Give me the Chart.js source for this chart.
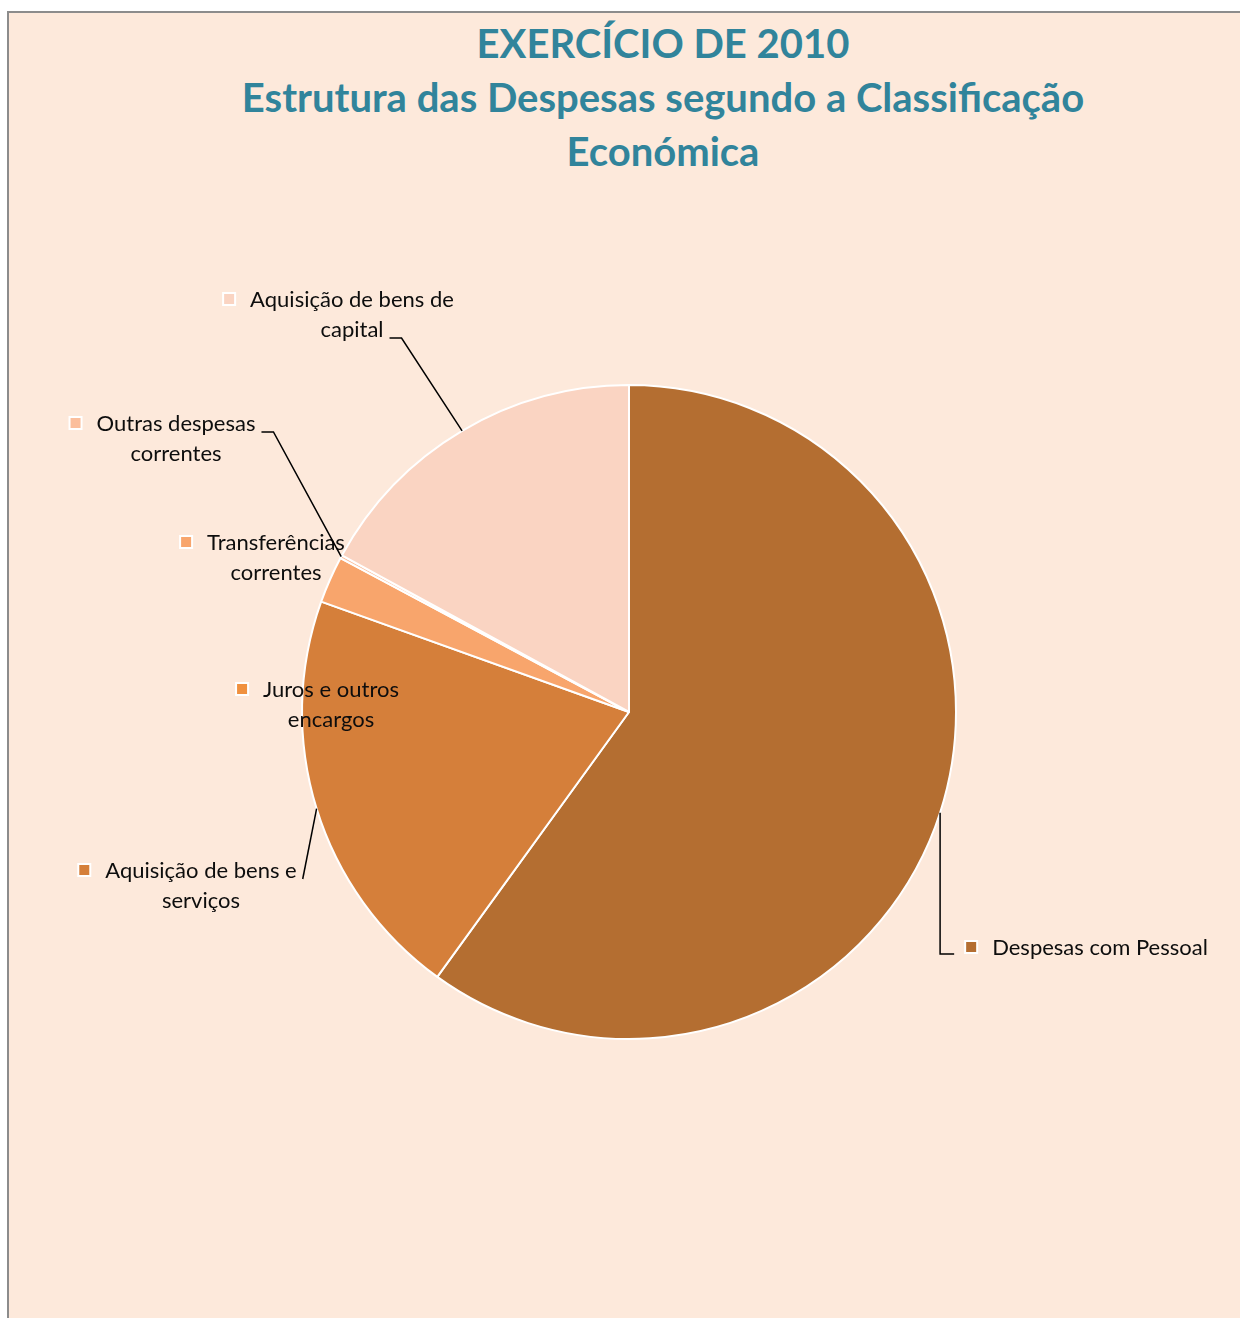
<!DOCTYPE html>
<html>
<head>
<meta charset="utf-8">
<script src="https://cdn.jsdelivr.net/npm/chart.js@4.4.1/dist/chart.umd.min.js"></script>
<style>
  html, body { margin: 0; padding: 0; background: #fff; }
  #frame {
    position: absolute; left: 7px; top: 11px; width: 1300px; height: 1400px;
    background: #FDE9DB; border-top: 2px solid #8c8c8c; border-left: 2px solid #8c8c8c;
  }
  #title {
    position: absolute; left: 8px; top: 16px; width: 1310px; text-align: center;
    font: bold 40px Lato, sans-serif; line-height: 54px; color: #31849B;
  }
  #myChart { position: absolute; left: 0; top: 0; }
</style>
</head>
<body>
<div id="frame"></div>
<div id="title">EXERCÍCIO DE 2010<br>Estrutura das Despesas segundo a Classificação<br>Económica</div>
<canvas id="myChart" width="1240" height="1318"></canvas>
<script>
// categories and their share of total expenditure (%)
const categories = [
  "Despesas com Pessoal",
  "Aquisição de bens e serviços",
  "Juros e outros encargos",
  "Transferências correntes",
  "Outras despesas correntes",
  "Aquisição de bens de capital"
];
const shares = [59.97, 20.51, 0, 2.32, 0.15, 17.05];
const sliceColors = ["#B46E31", "#D57F3A", "#F0913F", "#F8A56C", "#FBBE9C", "#FAD4C2"];

// where Excel put each data label, relative to pie centre
const labelLayout = [
  { dx: 471, dy: 236, wrap: 280, leader: "left" },
  { dx: -428, dy: 159, wrap: 225, leader: "right", line: 0, stub: 0 },
  { dx: -298, dy: -22, wrap: 200, leader: null },
  { dx: -353, dy: -169, wrap: 210, leader: null },
  { dx: -453, dy: -288, wrap: 210, leader: "right", line: 0, stub: 12 },
  { dx: -277, dy: -412, wrap: 225, leader: "right", line: 1, stub: 12 }
];

const LABEL_FONT = "22px Lato, sans-serif";
const LINE_H = 30;

function wrapText(ctx, text, maxW) {
  const words = text.split(" ");
  const lines = [];
  let cur = "";
  words.forEach(w => {
    const test = cur ? cur + " " + w : w;
    if (cur && ctx.measureText(test).width > maxW) {
      lines.push(cur);
      cur = w;
    } else {
      cur = test;
    }
  });
  if (cur) lines.push(cur);
  return lines;
}

const pieLabels = {
  id: "pieLabels",
  afterDraw(chart) {
    const ctx = chart.ctx;
    const meta = chart.getDatasetMeta(0);
    ctx.save();
    ctx.font = LABEL_FONT;
    ctx.textBaseline = "middle";
    ctx.textAlign = "center";
    meta.data.forEach((arc, i) => {
      const cfg = labelLayout[i];
      const cx = arc.x, cy = arc.y;
      const mid = (arc.startAngle + arc.endAngle) / 2;
      const px = cx + Math.cos(mid) * arc.outerRadius;
      const py = cy + Math.sin(mid) * arc.outerRadius;

      const lines = wrapText(ctx, categories[i], cfg.wrap);
      const tx = cx + cfg.dx, ty = cy + cfg.dy;
      const w0 = ctx.measureText(lines[0]).width;
      const textLeft = tx - w0 / 2;

      // legend key
      const mk = 12;
      const mx = textLeft - 21 - mk / 2, my = ty - 1 - mk / 2;
      ctx.fillStyle = sliceColors[i];
      ctx.fillRect(mx, my, mk, mk);
      ctx.strokeStyle = "#ffffff";
      ctx.lineWidth = 2;
      ctx.strokeRect(mx, my, mk, mk);

      ctx.fillStyle = "#0d0d0d";
      lines.forEach((ln, k) => ctx.fillText(ln, tx, ty + k * LINE_H));

      if (cfg.leader) {
        ctx.strokeStyle = "#000000";
        ctx.lineWidth = 1.5;
        ctx.beginPath();
        if (cfg.leader === "left") {
          const ax = mx - 11, ay = ty + 6;
          ctx.moveTo(ax, ay);
          ctx.lineTo(px, ay);
          ctx.lineTo(px, py);
        } else {
          const lw = ctx.measureText(lines[cfg.line]).width;
          const ax = tx + lw / 2 + 6, ay = ty + cfg.line * LINE_H + 8;
          ctx.moveTo(ax, ay);
          ctx.lineTo(ax + cfg.stub, ay);
          ctx.lineTo(px, py);
        }
        ctx.stroke();
      }
    });
    ctx.restore();
  }
};

const ctx = document.getElementById("myChart").getContext("2d");
new Chart(ctx, {
  type: "pie",
  data: {
    labels: categories,
    datasets: [{
      data: shares,
      backgroundColor: sliceColors,
      borderColor: "#ffffff",
      borderWidth: 2
    }]
  },
  options: {
    responsive: false,
    animation: false,
    devicePixelRatio: 1,
    radius: 327,
    layout: { padding: { left: 298, right: 280, top: 385, bottom: 279 } },
    plugins: {
      legend: { display: false },
      title: { display: false },
      tooltip: { enabled: false }
    }
  },
  plugins: [pieLabels]
});
</script>
</body>
</html>
